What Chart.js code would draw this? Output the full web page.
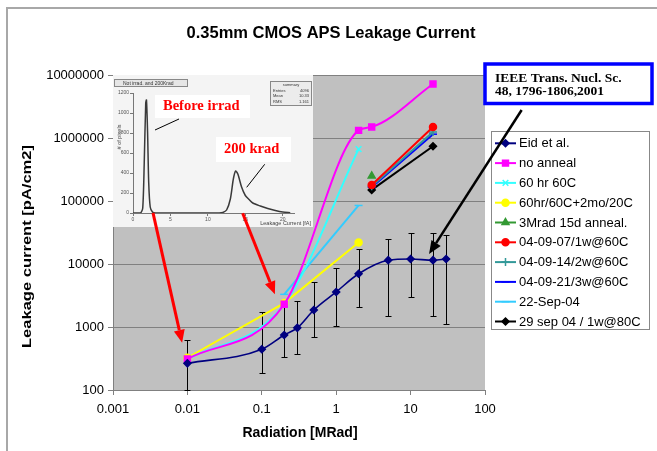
<!DOCTYPE html>
<html>
<head>
<meta charset="utf-8">
<script src="https://cdn.jsdelivr.net/npm/chart.js@4.4.0/dist/chart.umd.min.js"></script>
<style>
body { margin:0; background:#fff; }
#wrap { position:relative; width:657px; height:451px; }
#insetWrap { position:absolute; left:-2000px; top:0; }
</style>
</head>
<body>
<div id="wrap"><canvas id="c" width="657" height="451"></canvas></div>
<div id="insetWrap"><canvas id="inset" width="200" height="152"></canvas></div>
<script>
// axis ticks
var xTickVals = [0.001, 0.01, 0.1, 1, 10, 100];
var xTickLabels = ['0.001', '0.01', '0.1', '1', '10', '100'];
var yTickVals = [100, 1000, 10000, 100000, 1000000, 10000000];
var yTickLabels = ['100', '1000', '10000', '100000', '1000000', '10000000'];

// Eid et al. with error bars
var eidX = [0.01, 0.1, 0.2, 0.3, 0.5, 1, 2, 5, 10, 20, 30];
var eidY = [265, 443, 747, 970, 1860, 3600, 7000, 11500, 12000, 11500, 12000];
var eidHi = [620, 1700, 2150, 2560, 5200, 8700, 17500, 25000, 31000, 31000, 29000];
var eidLo = [100, 184, 330, 372, 690, 1050, 2040, 1480, 2950, 1480, 1120];

var noAnnealX = [0.01, 0.2, 2, 3, 20];
var noAnnealY = [310, 2300, 1320000, 1500000, 7200000];
var hr60X = [0.01, 0.2, 2];
var hr60Y = [310, 2300, 665000];
var hr60moX = [0.01, 0.2, 2];
var hr60moY = [325, 2400, 22000];
var mrad3X = [3];
var mrad3Y = [250000];
var w1X = [3, 20];
var w1Y = [180000, 1500000];
var w2X = [3, 20];
var w2Y = [172000, 1240000];
var w3X = [3, 20];
var w3Y = [165000, 1150000];
var sep22X = [0.2, 2];
var sep22Y = [3300, 85000];
var sep29X = [3, 20];
var sep29Y = [150000, 740000];

// inset histogram (leakage current [fA] vs # of pixels)
var histX = [0, 1.0, 1.3, 1.5, 1.7, 1.8, 1.95, 2.1, 2.3, 2.6, 3, 11.5, 12, 12.5, 13, 13.4, 13.7, 14, 14.5, 15, 15.5, 16, 17, 18, 19, 20, 21];
var histY = [0, 0, 50, 500, 1100, 1130, 800, 300, 60, 10, 0, 0, 5, 30, 140, 340, 420, 390, 260, 175, 135, 100, 70, 45, 25, 10, 3];
var histXTicks = [0, 5, 10, 15, 20];
var histYTicks = [0, 200, 400, 600, 800, 1000, 1200];

// annotation arrows, in data units
var arrows = [
  { from: [0.00345, 64800], to: [0.0085, 560], color: '#ff0000', width: 3 },
  { from: [0.0553, 63800], to: [0.15, 3300], color: '#ff0000', width: 3 },
  { from: [311, 2780000], to: [17.7, 14400], color: '#000000', width: 2.5 }
];

var SANS = '"Liberation Sans", Arial, sans-serif';
var SERIF = '"Liberation Serif", "Times New Roman", serif';

function pts(xs, ys) {
  return xs.map(function (x, i) { return { x: x, y: ys[i] }; });
}

function series(label, xs, ys, color, style, r, extra) {
  var d = {
    label: label, data: pts(xs, ys),
    borderColor: color, backgroundColor: color,
    pointBackgroundColor: color, pointBorderColor: color,
    pointStyle: style, pointRadius: r, pointBorderWidth: 1.5,
    borderWidth: 2, tension: 0
  };
  for (var k in extra) d[k] = extra[k];
  return d;
}

var datasets = [
  series('Eid et al.', eidX, eidY, '#000080', 'rectRot', 3.5, { cubicInterpolationMode: 'monotone', borderWidth: 1.6 }),
  series('no anneal', noAnnealX, noAnnealY, '#ff00ff', 'rect', 4.2, { cubicInterpolationMode: 'monotone' }),
  series('60 hr 60C', hr60X, hr60Y, '#33ffff', 'crossRot', 4, { cubicInterpolationMode: 'monotone' }),
  series('60hr/60C+2mo/20C', hr60moX, hr60moY, '#ffff00', 'circle', 3.5, {}),
  series('3Mrad 15d anneal.', mrad3X, mrad3Y, '#339933', 'triangle', 4, { showLine: false }),
  series('04-09-07/1w@60C', w1X, w1Y, '#ff0000', 'circle', 3.5, {}),
  series('04-09-14/2w@60C', w2X, w2Y, '#339999', 'cross', 4, {}),
  series('04-09-21/3w@60C', w3X, w3Y, '#0000ff', 'line', 4, {}),
  series('22-Sep-04', sep22X, sep22Y, '#33ccff', 'line', 4, {}),
  series('29 sep 04 / 1w@80C', sep29X, sep29Y, '#000000', 'rectRot', 3.5, {})
];

// ---------- inset histogram ----------
var insetDeco = {
  id: 'insetDeco',
  beforeDraw: function (chart) {
    var ctx = chart.ctx;
    ctx.save();
    ctx.fillStyle = '#f4f4f4';
    ctx.fillRect(0, 0, chart.width, chart.height);
    ctx.restore();
  },
  afterDraw: function (chart) {
    var ctx = chart.ctx;
    ctx.save();
    // small title box
    ctx.fillStyle = '#e6e6e6';
    ctx.strokeStyle = '#888';
    ctx.lineWidth = 1;
    ctx.fillRect(1.5, 4.5, 73, 7);
    ctx.strokeRect(1.5, 4.5, 73, 7);
    ctx.fillStyle = '#333';
    ctx.font = '5px ' + SANS;
    ctx.textBaseline = 'middle';
    ctx.fillText('Not irrad. and 200Krad', 10, 8.2);
    // stats box
    ctx.fillStyle = '#ececec';
    ctx.fillRect(157.5, 6.5, 41, 24);
    ctx.strokeRect(157.5, 6.5, 41, 24);
    ctx.fillStyle = '#333';
    ctx.font = '4px ' + SANS;
    ctx.textAlign = 'center';
    ctx.fillText('summary', 178, 10);
    ctx.textAlign = 'left';
    ctx.fillText('Entries', 160, 15.5);
    ctx.fillText('Mean', 160, 21);
    ctx.fillText('RMS', 160, 26.5);
    ctx.textAlign = 'right';
    ctx.fillText('4096', 196, 15.5);
    ctx.fillText('10.33', 196, 21);
    ctx.fillText('1.161', 196, 26.5);
    // axis titles
    ctx.font = '5.5px ' + SANS;
    ctx.fillStyle = '#444';
    ctx.textAlign = 'right';
    ctx.fillText('Leakage Current [fA]', 198, 148.5);
    ctx.save();
    ctx.translate(6, 62);
    ctx.rotate(-Math.PI / 2);
    ctx.textAlign = 'center';
    ctx.fillText('# of pixels', 0, 0);
    ctx.restore();
    // red labels
    ctx.fillStyle = '#ffffff';
    ctx.fillRect(42, 20, 95, 23);
    ctx.fillRect(103, 62, 75, 25);
    ctx.fillStyle = '#ff0000';
    ctx.font = 'bold 14.5px ' + SERIF;
    ctx.textAlign = 'left';
    ctx.fillText('Before irrad', 50, 31);
    ctx.fillText('200 krad', 111, 74);
    ctx.strokeStyle = '#000';
    ctx.lineWidth = 1;
    ctx.beginPath();
    ctx.moveTo(66, 44); ctx.lineTo(42, 55);
    ctx.moveTo(151.7, 89.3); ctx.lineTo(133.7, 112.3);
    ctx.stroke();
    ctx.restore();
  }
};

var insetCanvas = document.getElementById('inset');
new Chart(insetCanvas, {
  type: 'line',
  data: { datasets: [{ data: pts(histX, histY), borderColor: '#3a3a3a', borderWidth: 1.5, pointRadius: 0, tension: 0.25 }] },
  options: {
    responsive: false, animation: false, devicePixelRatio: 1,
    layout: { padding: { left: 0, top: 18, right: 19, bottom: 0 } },
    plugins: { legend: { display: false }, tooltip: { enabled: false } },
    scales: {
      x: {
        type: 'linear', min: 0, max: 21.5,
        afterBuildTicks: function (s) { s.ticks = histXTicks.map(function (v) { return { value: v }; }); },
        afterFit: function (s) { s.height = 14; },
        ticks: { callback: function (v) { return String(v); }, font: { size: 5, family: SANS }, color: '#555', padding: 1, maxRotation: 0 },
        grid: { drawOnChartArea: false, tickLength: 3, color: '#777' },
        border: { color: '#777' }
      },
      y: {
        min: 0, max: 1200,
        afterBuildTicks: function (s) { s.ticks = histYTicks.map(function (v) { return { value: v }; }); },
        afterFit: function (s) { s.width = 20; },
        ticks: { callback: function (v) { return String(v); }, font: { size: 5, family: SANS }, color: '#555', padding: 1 },
        grid: { drawOnChartArea: false, tickLength: 3, color: '#777' },
        border: { color: '#777' }
      }
    }
  },
  plugins: [insetDeco]
});

// ---------- main chart ----------
function drawArrow(ctx, x1, y1, x2, y2, color, w) {
  var ang = Math.atan2(y2 - y1, x2 - x1);
  var hl = 13, hw = 5.5;
  var bx = x2 - hl * Math.cos(ang), by = y2 - hl * Math.sin(ang);
  ctx.strokeStyle = color;
  ctx.fillStyle = color;
  ctx.lineWidth = w;
  ctx.beginPath();
  ctx.moveTo(x1, y1);
  ctx.lineTo(bx, by);
  ctx.stroke();
  ctx.beginPath();
  ctx.moveTo(x2, y2);
  ctx.lineTo(bx + hw * Math.sin(ang), by - hw * Math.cos(ang));
  ctx.lineTo(bx - hw * Math.sin(ang), by + hw * Math.cos(ang));
  ctx.closePath();
  ctx.fill();
}

var mainDeco = {
  id: 'mainDeco',
  beforeDraw: function (chart) {
    var ctx = chart.ctx, a = chart.chartArea;
    ctx.save();
    ctx.fillStyle = '#ffffff';
    ctx.fillRect(0, 0, chart.width, chart.height);
    ctx.strokeStyle = '#a8a8a8';
    ctx.lineWidth = 2;
    ctx.strokeRect(7, 8, 700, 500);
    ctx.fillStyle = '#c0c0c0';
    ctx.fillRect(a.left, a.top, a.right - a.left, a.bottom - a.top);
    ctx.restore();
  },
  beforeDatasetsDraw: function (chart) {
    var ctx = chart.ctx, x = chart.scales.x, y = chart.scales.y;
    ctx.save();
    ctx.drawImage(insetCanvas, 113, 75);
    // error bars of Eid et al.
    ctx.strokeStyle = '#000';
    ctx.lineWidth = 1;
    ctx.beginPath();
    eidX.forEach(function (v, i) {
      var px = Math.round(x.getPixelForValue(v)) + 0.5;
      var t = Math.round(y.getPixelForValue(eidHi[i])) + 0.5;
      var b = Math.round(y.getPixelForValue(eidLo[i])) + 0.5;
      ctx.moveTo(px, t); ctx.lineTo(px, b);
      ctx.moveTo(px - 3, t); ctx.lineTo(px + 3, t);
      ctx.moveTo(px - 3, b); ctx.lineTo(px + 3, b);
    });
    ctx.stroke();
    ctx.restore();
  },
  afterDraw: function (chart) {
    var ctx = chart.ctx, x = chart.scales.x, y = chart.scales.y;
    ctx.save();
    // title
    ctx.fillStyle = '#000';
    ctx.font = 'bold 16.5px ' + SANS;
    ctx.textAlign = 'center';
    ctx.textBaseline = 'middle';
    ctx.fillText('0.35mm CMOS APS Leakage Current', 331, 33);
    // axis titles
    ctx.font = 'bold 14px ' + SANS;
    ctx.fillText('Radiation [MRad]', 300, 433);
    ctx.save();
    ctx.translate(27, 246.5);
    ctx.rotate(-Math.PI / 2);
    ctx.font = 'bold 13px ' + SANS;
    var yt = 'Leakage current [pA/cm2]';
    var tw = ctx.measureText(yt).width;
    ctx.scale(203 / tw, 1);
    ctx.fillText(yt, 0, 0);
    ctx.restore();

    // reference box
    ctx.fillStyle = '#fff';
    ctx.fillRect(485, 64, 167, 39.5);
    ctx.strokeStyle = '#0000ff';
    ctx.lineWidth = 3.5;
    ctx.strokeRect(485, 64, 167, 39.5);
    ctx.fillStyle = '#000';
    ctx.textAlign = 'left';
    ctx.textBaseline = 'alphabetic';
    ctx.font = 'bold 13.5px ' + SERIF;
    ctx.fillText('IEEE Trans. Nucl. Sc.', 495, 81.5);
    ctx.fillText('48, 1796-1806,2001', 495, 94.5);

    // legend
    ctx.fillStyle = '#fff';
    ctx.fillRect(491.5, 131.5, 158, 198);
    ctx.strokeStyle = '#888';
    ctx.lineWidth = 1;
    ctx.strokeRect(491.5, 131.5, 158, 198);
    ctx.font = '13px ' + SANS;
    ctx.textBaseline = 'middle';
    chart.data.datasets.forEach(function (ds, i) {
      var ry = 143.3 + i * 19.8;
      ctx.strokeStyle = ds.borderColor;
      ctx.lineWidth = 2;
      ctx.beginPath();
      ctx.moveTo(495, ry); ctx.lineTo(516, ry);
      ctx.stroke();
      ctx.fillStyle = ds.pointBackgroundColor;
      ctx.strokeStyle = ds.pointBorderColor;
      ctx.lineWidth = 1.5;
      Chart.helpers.drawPoint(ctx, { pointStyle: ds.pointStyle, radius: ds.pointRadius, rotation: 0, borderWidth: 1.5 }, 505.5, ry);
      ctx.fillStyle = '#000';
      ctx.fillText(ds.label, 519, ry + 0.5);
    });

    // arrows
    arrows.forEach(function (ar) {
      drawArrow(ctx,
        x.getPixelForValue(ar.from[0]), y.getPixelForValue(ar.from[1]),
        x.getPixelForValue(ar.to[0]), y.getPixelForValue(ar.to[1]),
        ar.color, ar.width);
    });
    ctx.restore();
  }
};

new Chart(document.getElementById('c'), {
  type: 'line',
  data: { datasets: datasets },
  options: {
    responsive: false, animation: false, devicePixelRatio: 1,
    layout: { padding: { left: 0, top: 75, right: 172, bottom: 0 } },
    plugins: { legend: { display: false }, title: { display: false }, tooltip: { enabled: false } },
    scales: {
      x: {
        type: 'logarithmic', min: 0.001, max: 100,
        afterBuildTicks: function (s) { s.ticks = xTickVals.map(function (v) { return { value: v }; }); },
        afterFit: function (s) { s.height = 61; },
        ticks: {
          callback: function (v, i) { return xTickLabels[i]; },
          color: '#000', font: { size: 13, family: SANS }, padding: 7, autoSkip: false, maxRotation: 0
        },
        grid: { drawOnChartArea: false, color: '#808080', tickLength: 5 },
        border: { color: '#808080' }
      },
      y: {
        type: 'logarithmic', min: 100, max: 10000000,
        afterBuildTicks: function (s) { s.ticks = yTickVals.map(function (v) { return { value: v }; }); },
        afterFit: function (s) { s.width = 113; },
        ticks: {
          callback: function (v, i) { return yTickLabels[i]; },
          color: '#000', font: { size: 13, family: SANS }, padding: 4, autoSkip: false
        },
        grid: { color: '#808080', tickLength: 5 },
        border: { color: '#808080' }
      }
    }
  },
  plugins: [mainDeco]
});
</script>
</body>
</html>
